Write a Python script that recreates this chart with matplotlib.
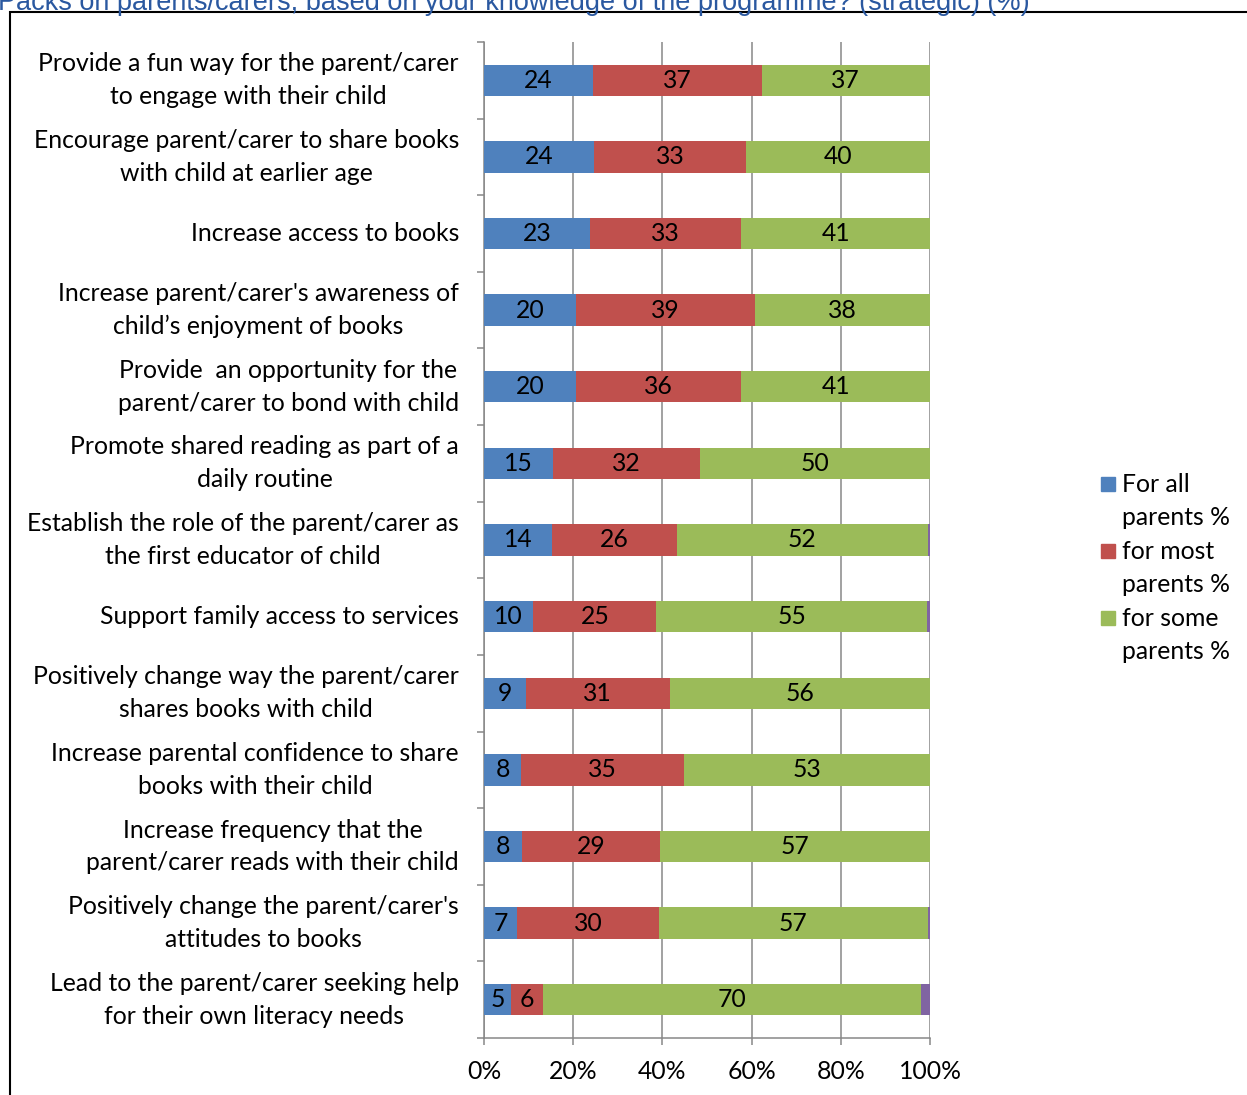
import matplotlib.pyplot as plt
import matplotlib.patches as mpatches
import numpy as np

# chart data (percent of respondents)
statements = [
    "Provide a fun way for the parent/carer\nto engage with their child",
    "Encourage parent/carer to share books\nwith child at earlier age",
    "Increase access to books",
    "Increase parent/carer's awareness of\nchild\u2019s enjoyment of books",
    "Provide  an opportunity for the\nparent/carer to bond with child",
    "Promote shared reading as part of a\ndaily routine",
    "Establish the role of the parent/carer as\nthe first educator of child",
    "Support family access to services",
    "Positively change way the parent/carer\nshares books with child",
    "Increase parental confidence to share\nbooks with their child",
    "Increase frequency that the\nparent/carer reads with their child",
    "Positively change the parent/carer's\nattitudes to books",
    "Lead to the parent/carer seeking help\nfor their own literacy needs",
]
all_parents = [24, 24, 23, 20, 20, 15, 14, 10, 9, 8, 8, 7, 5]
most_parents = [37, 33, 33, 39, 36, 32, 26, 25, 31, 35, 29, 30, 6]
some_parents = [37, 40, 41, 38, 41, 50, 52, 55, 56, 53, 57, 57, 70]
no_parents = [0, 0, 0, 0, 0, 0, 0.5, 0.6, 0, 0, 0, 0.4, 1.7]

series_names = ["For all\nparents %", "for most\nparents %", "for some\nparents %"]
colors = ["#4F81BD", "#C0504D", "#9BBB59", "#8064A2"]

plt.rcParams['font.family'] = ['Lato', 'DejaVu Sans']
FS = 17.8
LS = 1.52

raw = np.array([all_parents, most_parents, some_parents, no_parents], dtype=float)
pct = raw / raw.sum(axis=0) * 100

fig = plt.figure(figsize=(12.47, 10.95), dpi=100)
ax = fig.add_axes([484 / 1247, 1 - 1038 / 1095, 446 / 1247, 996 / 1095])

y = np.arange(len(statements))
left = np.zeros(len(statements))
for i in range(4):
    bars = ax.barh(y, pct[i], left=left, height=0.41, color=colors[i], zorder=3)
    if i < 3:
        ax.bar_label(bars, labels=[f"{v:g}" for v in raw[i]], label_type='center',
                     fontsize=FS, color='black')
    left += pct[i]

ax.set_xlim(0, 100)
ax.set_ylim(len(statements) - 0.5, -0.5)
ax.set_xticks(np.arange(0, 101, 20))
ax.set_xticklabels([f"{v}%" for v in range(0, 101, 20)], fontsize=FS)
ax.set_yticks(y)
ax.set_yticklabels(statements, fontsize=FS, va='center')
for lbl in ax.get_yticklabels():
    lbl.set_multialignment('center')
    lbl.set_linespacing(LS)
ax.set_yticks(np.arange(-0.5, len(statements), 1), minor=True)

ax.grid(axis='x', color='#878787', linewidth=1.1, zorder=0)
ax.tick_params(axis='y', which='major', length=0, pad=18)
ax.tick_params(axis='y', which='minor', length=5, color='#878787', width=1.1)
ax.tick_params(axis='x', length=5, color='#878787', width=1.1, pad=11)
for s in ['top', 'right']:
    ax.spines[s].set_visible(False)
for s in ['left', 'bottom']:
    ax.spines[s].set_color('#878787')
    ax.spines[s].set_linewidth(1.1)

# legend: square beside first line of each two-line label
W, H = 1247, 1095
for i, name in enumerate(series_names):
    yc = 484 + i * 67
    fig.patches.append(mpatches.Rectangle((1101 / W, 1 - (yc + 7) / H), 14 / W, 14 / H,
                                          transform=fig.transFigure, color=colors[i]))
    fig.text(1122 / W, 1 - (yc - 11) / H, name, fontsize=FS, ha='left', va='top',
             linespacing=LS)

# cut-off heading from the report page
fig.text(-0.002, 1.009, "Packs on parents/carers, based on your knowledge of the programme? (strategic) (%)",
         fontsize=19.5, color='#2A58A0', family=['Liberation Sans Narrow', 'Liberation Sans'],
         ha='left', va='top')
fig.patches.append(mpatches.Rectangle((10 / W, -0.01), 1.0, 1 - 12 / H + 0.01,
                                      transform=fig.transFigure, fill=False,
                                      edgecolor='black', linewidth=1.5))

fig.savefig("out.png", dpi=100)
